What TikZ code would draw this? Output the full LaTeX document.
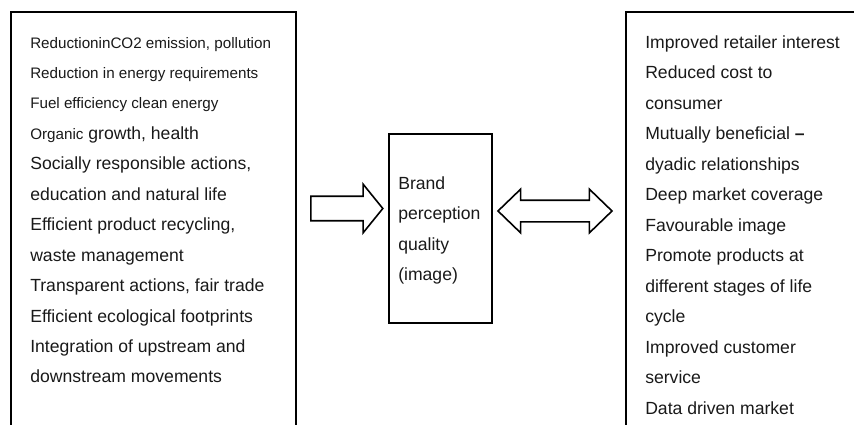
\documentclass[tikz,border=0pt]{standalone}
\usepackage{fontspec}
\setmainfont{Liberation Sans}
\usetikzlibrary{shapes.arrows}

\newcommand{\smalltxt}{\fontsize{11.4}{13}\selectfont}
\tikzset{
  box/.style={draw, line width=1.3pt, inner sep=0pt, anchor=north west},
  txt/.style={anchor=base west, inner sep=0pt, text=black!90,
              font=\fontsize{13.2}{15}\selectfont},
  blockarrow/.style={draw, line width=1.2pt, inner xsep=0pt, fill=white}
}

\begin{document}
\begin{tikzpicture}[x=0.75pt,y=-0.75pt]
        \useasboundingbox (0,0) rectangle (854,425);
        % the three boxes (outer two run off the page)
        \node[box, minimum width=213.75pt, minimum height=322.5pt] (drivers) at (10,11) {};
        \node[box, minimum width=77.25pt, minimum height=141.75pt] (brand) at (388,133) {};
        \node[box, minimum width=191.25pt, minimum height=322.5pt] (outcomes) at (625,11) {};
        % block arrows
        \node[blockarrow, single arrow, anchor=tail, minimum height=54pt,
              inner ysep=8.6pt, single arrow head extend=9pt,
              single arrow tip angle=102] (arr1) at (310,208.5) {};
        \node[blockarrow, double arrow, minimum height=85.5pt,
              inner ysep=7.5pt, double arrow head extend=8.25pt,
              double arrow tip angle=88] (arr2) at (555,211) {};
        % left list
        \foreach \t [count=\i] in {{\smalltxt ReductioninCO2 emission, pollution},
            {\smalltxt Reduction in energy requirements},
            {\smalltxt Fuel efficiency clean energy},
            {{\smalltxt Organic} growth, health},
            {Socially responsible actions,},
            {education and natural life},
            {Efficient product recycling,},
            {waste management},
            {Transparent actions, fair trade},
            {Efficient ecological footprints},
            {Integration of upstream and},
            {downstream movements}}
          \node[txt] (l\i) at (30,{48+30.45*(\i-1)}) {\t};
        % middle text
        \foreach \t [count=\i] in {Brand, perception, quality, (image)}
          \node[txt] (m\i) at (398,{189+30.5*(\i-1)}) {\t};
        % right list
        \foreach \t [count=\i] in {{Improved retailer interest},
            {Reduced cost to},
            {consumer},
            {Mutually beneficial \textbf{--}},
            {dyadic relationships},
            {Deep market coverage},
            {Favourable image},
            {Promote products at},
            {different stages of life},
            {cycle},
            {Improved customer},
            {service},
            {Data driven market}}
          \node[txt] (r\i) at (645,{48+30.5*(\i-1)}) {\t};
    \end{tikzpicture}
\end{document}
